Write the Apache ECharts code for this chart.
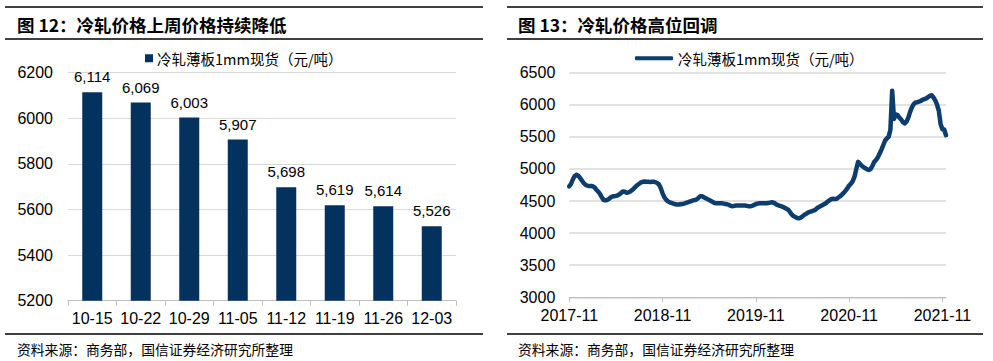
<!DOCTYPE html>
<html>
<head>
<meta charset="utf-8">
<script src="https://cdn.jsdelivr.net/npm/echarts@6/dist/echarts.min.js"></script>
<style>
html,body{margin:0;padding:0;background:#fff;}
#c{width:993px;height:361px;}
</style>
</head>
<body>
<div id="c"></div>
<script>
// Left panel: weekly cold-rolled price (bars)
const barCats = ['10-15','10-22','10-29','11-05','11-12','11-19','11-26','12-03'];
const barVals = [6114,6069,6003,5907,5698,5619,5614,5526];

// Right panel: weekly cold-rolled price series, starting 2017-11-24
const lineStart = '2017-11-24';
const lineVals = [
4730,4770,4840,4890,4910,4895,4860,4820,4780,4755,
4740,4735,4735,4730,4715,4680,4650,4615,4565,4520,
4510,4515,4530,4555,4570,4575,4580,4590,4605,4630,
4650,4645,4630,4635,4650,4670,4695,4725,4750,4770,
4790,4800,4805,4800,4800,4795,4800,4800,4795,4780,
4760,4700,4620,4560,4520,4495,4480,4470,4460,4450,
4445,4445,4450,4455,4460,4470,4480,4490,4500,4510,
4515,4525,4550,4575,4575,4560,4545,4530,4515,4500,
4485,4470,4465,4465,4465,4465,4460,4455,4450,4440,
4425,4420,4425,4430,4430,4430,4430,4430,4430,4425,
4420,4420,4425,4440,4455,4460,4465,4465,4465,4465,
4465,4470,4475,4480,4475,4455,4440,4430,4420,4410,
4395,4380,4365,4330,4290,4265,4250,4235,4230,4240,
4260,4285,4300,4320,4330,4340,4350,4360,4385,4405,
4420,4435,4450,4465,4490,4510,4530,4535,4530,4535,
4555,4575,4600,4630,4660,4700,4740,4770,4810,4880,
5000,5110,5080,5050,5030,5010,4995,4985,5000,5050,
5110,5140,5180,5240,5300,5370,5440,5475,5500,5610,
6220,5780,5850,5840,5800,5770,5730,5710,5740,5800,
5890,5960,6010,6035,6040,6050,6060,6080,6090,6100,
6120,6140,6150,6114,6069,6003,5907,5698,5619,5614,
5526
];
const lineLabelStep = 52;

const legendText = '冷轧薄板1mm现货（元/吨）';
const title1 = '图 12：冷轧价格上周价格持续降低';
const title2 = '图 13：冷轧价格高位回调';
const sourceText = '资料来源：商务部，国信证券经济研究所整理';

// weekly date categories
const lineDates = [];
(function(){
  const d0 = new Date(lineStart + 'T00:00:00Z');
  for (let i = 0; i < lineVals.length; i++) {
    const d = new Date(d0.getTime() + i * 7 * 86400000);
    lineDates.push(d.toISOString().slice(0,10));
  }
})();

const FONT = '"Liberation Sans", Arial, "Noto Sans CJK SC", sans-serif';
const CJK = '"Noto Sans CJK SC", "Liberation Sans", sans-serif';
const GRID = '#d9d9d9';
const AXIS = '#bfbfbf';
const NAVY = '#04325F';
const LINE = '#0C3D6D';

const chart = echarts.init(document.getElementById('c'), null, {renderer: 'svg'});

function rule(x1, x2, y) {
  return {type: 'line', shape: {x1: x1, y1: y, x2: x2, y2: y},
    style: {stroke: '#000', lineWidth: 1.5}, silent: true};
}
function txt(x, y, text, size, weight) {
  return {type: 'text', x: x, y: y, silent: true,
    style: {text: text, fill: '#000', font: (weight || 'normal') + ' ' + size + 'px ' + CJK,
      textVerticalAlign: 'middle', verticalAlign: 'middle'}};
}
function plain(v){ return String(v); }

const option = {
  backgroundColor: '#fff',
  animation: false,
  textStyle: {fontFamily: FONT},
  graphic: [
    rule(5, 483, 7), rule(5, 483, 39), rule(5, 483, 334),
    rule(507, 983, 7), rule(507, 983, 39), rule(507, 983, 334),
    txt(17, 24, title1, 17.5, 'bold'),
    txt(518, 24, title2, 17.5, 'bold'),
    txt(17, 349, sourceText, 13.8),
    txt(518, 349, sourceText, 13.8)
  ],
  legend: [
    {
      left: 140, top: 46, data: ['bar'], icon: 'rect',
      itemWidth: 8, itemHeight: 8, itemGap: 4,
      formatter: function(){ return legendText; },
      textStyle: {fontSize: 14.5, color: '#000', fontFamily: CJK, padding: [0,0,0,-1]}
    },
    {
      left: 630, top: 46, data: ['line'], icon: 'roundRect',
      itemWidth: 38, itemHeight: 4,
      formatter: function(){ return legendText; },
      textStyle: {fontSize: 14.5, color: '#000', fontFamily: CJK}
    }
  ],
  grid: [
    {left: 68, top: 72.7, width: 388, height: 228},
    {left: 569.3, top: 72.7, width: 376.7, height: 224.6}
  ],
  xAxis: [
    {
      type: 'category', gridIndex: 0, data: barCats,
      axisLine: {lineStyle: {color: AXIS, width: 1}},
      axisTick: {show: true, length: 5, lineStyle: {color: AXIS}},
      axisLabel: {color: '#000', fontSize: 16, fontFamily: FONT, margin: 10, interval: 0}
    },
    {
      type: 'category', gridIndex: 1, data: lineDates, boundaryGap: false,
      axisLine: {lineStyle: {color: AXIS, width: 1}},
      axisTick: {show: true, length: 5, lineStyle: {color: AXIS},
        interval: function(i){ return i % lineLabelStep === 0; }},
      axisLabel: {color: '#000', fontSize: 16, fontFamily: FONT, margin: 10,
        interval: function(i){ return i % lineLabelStep === 0; },
        formatter: function(v){ return v.slice(0,7); }}
    }
  ],
  yAxis: [
    {
      type: 'value', gridIndex: 0, min: 5200, max: 6200, interval: 200,
      axisLine: {show: false}, axisTick: {show: false},
      splitLine: {lineStyle: {color: GRID, width: 1}},
      axisLabel: {color: '#000', fontSize: 16, fontFamily: FONT, margin: 15, formatter: plain}
    },
    {
      type: 'value', gridIndex: 1, min: 3000, max: 6500, interval: 500,
      axisLine: {show: false}, axisTick: {show: false},
      splitLine: {lineStyle: {color: GRID, width: 1.5}},
      axisLabel: {color: '#000', fontSize: 16, fontFamily: FONT, margin: 14, formatter: plain}
    }
  ],
  series: [
    {
      name: 'bar', type: 'bar', xAxisIndex: 0, yAxisIndex: 0,
      data: barVals, barWidth: 20,
      itemStyle: {color: NAVY},
      label: {show: true, position: 'top', distance: 8, color: '#000',
        fontSize: 15, fontFamily: FONT,
        formatter: function(p){ return p.value.toLocaleString('en-US'); }}
    },
    {
      name: 'line', type: 'line', xAxisIndex: 1, yAxisIndex: 1,
      data: lineVals, showSymbol: false, symbol: 'none',
      itemStyle: {color: LINE},
      lineStyle: {color: LINE, width: 4.5, cap: 'round', join: 'round'}
    }
  ]
};
chart.setOption(option);
</script>
</body>
</html>
